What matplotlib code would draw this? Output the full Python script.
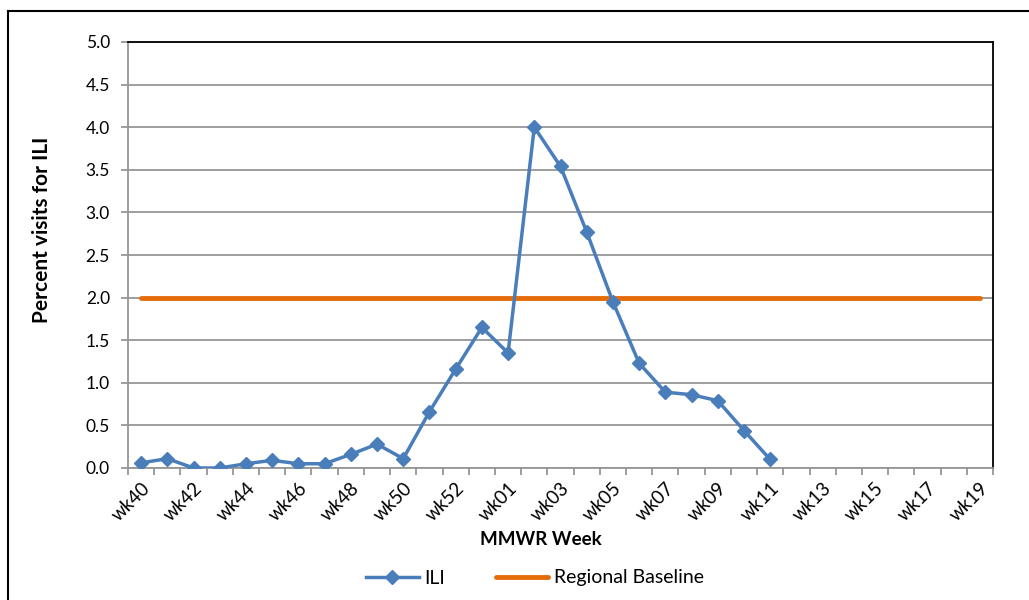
import matplotlib.pyplot as plt
import matplotlib.transforms as mtransforms
from matplotlib.lines import Line2D

plt.rcParams['font.family'] = ['Lato', 'DejaVu Sans']

# 53-week season: wk40..wk53, then wk01..wk19
weeks = [f"wk{w}" for w in range(40, 54)] + [f"wk{w:02d}" for w in range(1, 20)]
ili = [0.06, 0.11, 0.00, 0.00, 0.05, 0.09, 0.05, 0.05, 0.16, 0.28, 0.11, 0.66, 1.16,
       1.65, 1.35, 4.00, 3.54, 2.77, 1.95, 1.23, 0.89, 0.86, 0.79, 0.44, 0.10]
baseline = [2.0] * len(weeks)

blue = "#4A7EBB"
orange = "#E46C0A"
grid_c = "#969696"

fig = plt.figure(figsize=(10.29, 6), dpi=100)
ax = fig.add_axes([128 / 1029, 1 - 468 / 600, (993 - 128) / 1029, (468 - 42) / 600])

x = list(range(len(weeks)))
ax.plot(x, baseline, color=orange, lw=3.5, solid_capstyle='round', zorder=3)
ax.plot(x[:len(ili)], ili, color=blue, lw=2.5, marker='D', markersize=7,
        markerfacecolor=blue, markeredgecolor=blue, zorder=4)

ax.set_xlim(-0.5, len(weeks) - 0.5)
ax.set_ylim(0, 5)
ax.set_yticks([i * 0.5 for i in range(11)])
ax.set_yticklabels([f"{i * 0.5:.1f}" for i in range(11)], fontsize=12.5)
ax.yaxis.grid(True, color=grid_c, lw=1.3)
ax.set_axisbelow(True)

# category boundaries get the ticks, labels sit at every other category centre
ax.set_xticks([i - 0.5 for i in range(len(weeks) + 1)])
ax.set_xticklabels([])
ax.set_xticks(x[::2], minor=True)
ax.set_xticklabels(weeks[::2], minor=True, rotation=45, ha='right', va='top',
                   rotation_mode='anchor', fontsize=13.5)
shift = mtransforms.ScaledTranslation(4 / 100, 0, fig.dpi_scale_trans)
for lab in ax.get_xticklabels(minor=True):
    lab.set_transform(lab.get_transform() + shift)
ax.tick_params(axis='x', which='minor', length=0, pad=8)
ax.tick_params(axis='x', which='major', length=5, color=grid_c, width=1.3)
ax.tick_params(axis='y', length=5, color=grid_c, width=1.3, pad=8)

for s in ['left', 'bottom']:
    ax.spines[s].set_color(grid_c)
    ax.spines[s].set_linewidth(1.3)
for s in ['top', 'right']:
    ax.spines[s].set_color('black')
    ax.spines[s].set_linewidth(1.3)

ax.set_ylabel("Percent visits for ILI", fontsize=15, fontweight='bold')
ax.yaxis.set_label_coords(-0.088, 0.56)
ax.set_xlabel("MMWR Week", fontsize=13.5, fontweight='bold')
ax.xaxis.set_label_coords(0.477, -0.148)

handles = [Line2D([], [], color=blue, lw=2.5, marker='D', markersize=7),
           Line2D([], [], color=orange, lw=3.5, solid_capstyle='round')]
fig.legend(handles, ["ILI", "Regional Baseline"], loc='center', bbox_to_anchor=(535 / 1029, 1 - 578 / 600),
           ncol=2, frameon=False, fontsize=14, handlelength=2.7, columnspacing=2.6, handletextpad=0.3)

# outer chart frame (only top and left visible in the crop)
fig.add_artist(Line2D([8 / 1029, 1], [1 - 11 / 600, 1 - 11 / 600], color='black', lw=1.5))
fig.add_artist(Line2D([8 / 1029, 8 / 1029], [0, 1 - 11 / 600], color='black', lw=1.5))

fig.savefig("out.png", dpi=100)
